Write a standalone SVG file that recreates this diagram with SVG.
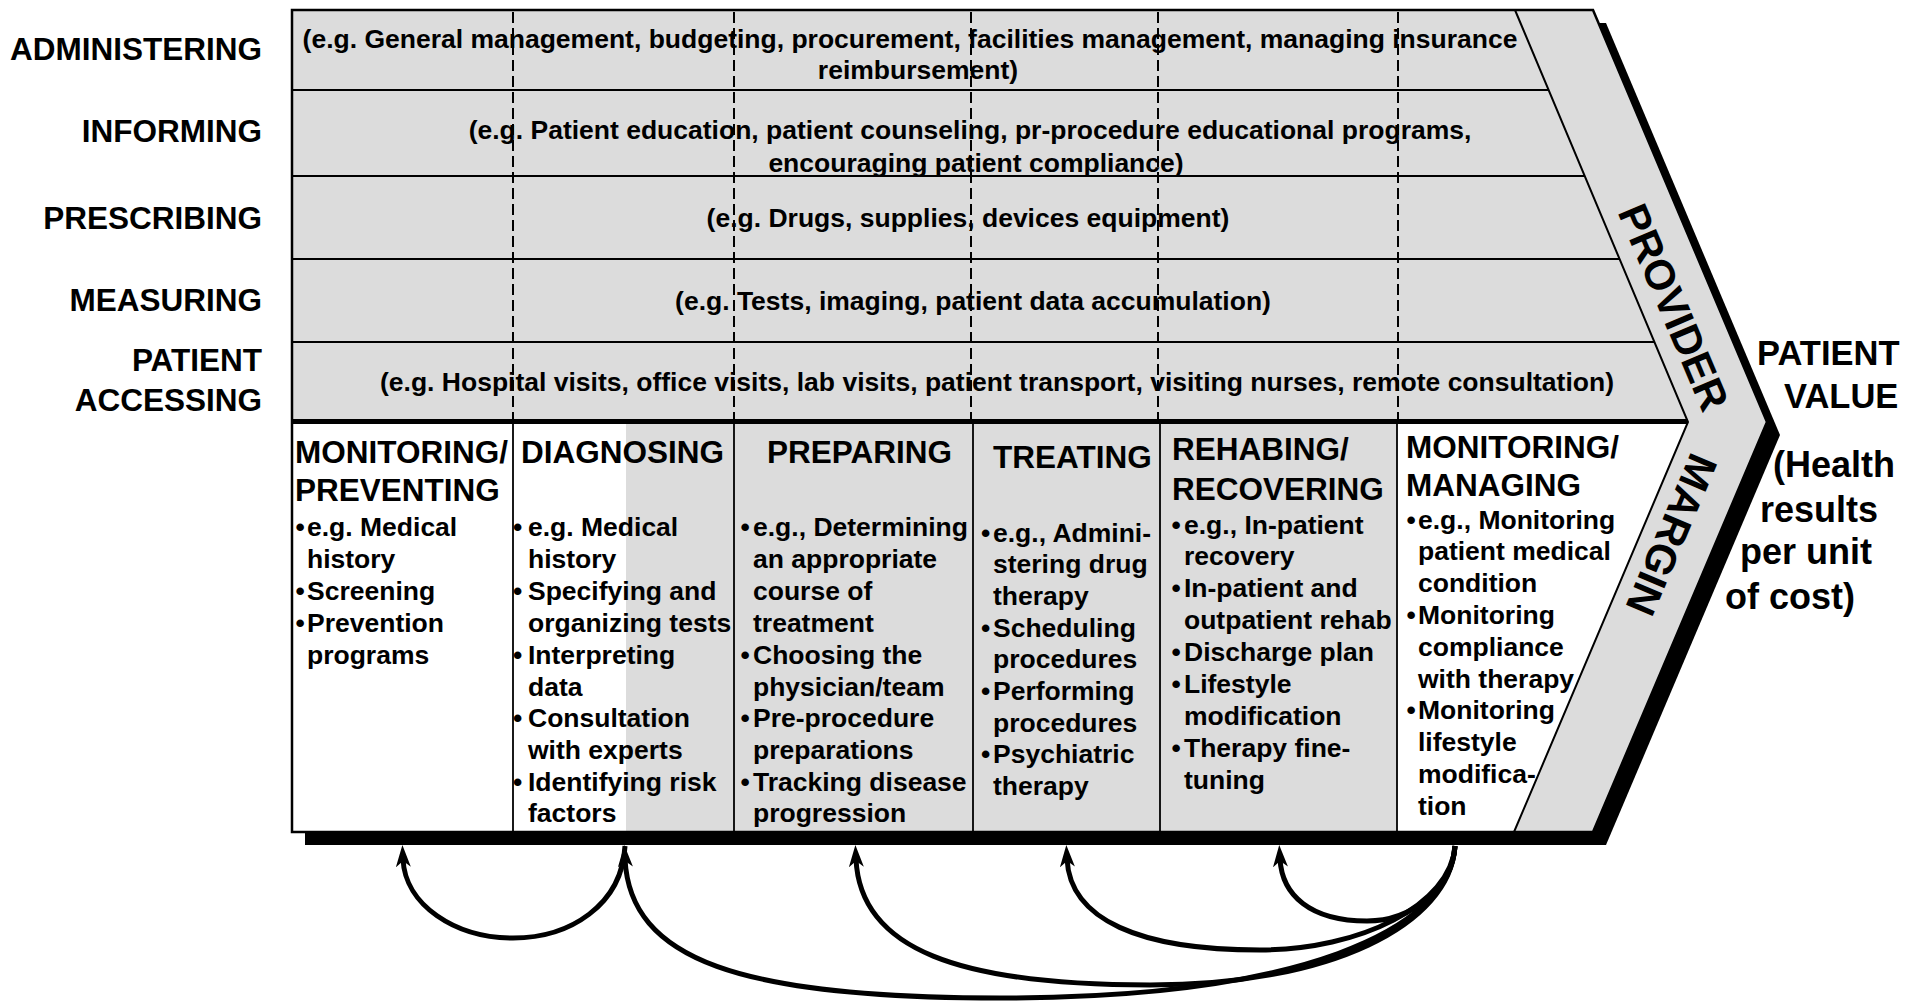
<svg xmlns="http://www.w3.org/2000/svg" width="1909" height="1002" viewBox="0 0 1909 1002">
<style>
text{font-family:"Liberation Sans",Arial,Helvetica,sans-serif;font-weight:bold;fill:#000}
.lbl{font-size:31.5px;text-anchor:end}
.row{font-size:26.5px;text-anchor:middle}
.hd{font-size:31.5px}
.tx{font-size:26.5px}
.pv{font-size:34.5px}
.pv2{font-size:36px}
.band{font-size:42px;text-anchor:middle}
.dash{stroke:#000;stroke-width:2;stroke-dasharray:11 5;fill:none}
.div{stroke:#000;stroke-width:1.8;fill:none}
.rl{stroke:#000;stroke-width:2;fill:none}
.arc{fill:none;stroke:#000;stroke-width:5;marker-end:url(#ah)}
</style>
<defs>
<marker id="ah" markerUnits="userSpaceOnUse" viewBox="0 0 22 15" markerWidth="22" markerHeight="15" refX="8" refY="7.5" orient="auto">
<path d="M0,0 L22,7.5 L0,15 L6,7.5 z" fill="#000"/>
</marker>
</defs>

<g id="frame">
<polygon points="305,23 1606,23 1780,435 1606,845 305,845" fill="#000"/>
<polygon points="292,10 1593,10 1767,422 1593,832 292,832" fill="#dcdcdc"/>
<rect x="292" y="421" width="221" height="411" fill="#fff"/>
<rect x="513" y="421" width="113" height="411" fill="#fff"/>
<polygon points="1397,421 1688,421 1514,832 1397,832" fill="#fff"/>
<line class="rl" x1="292" y1="90" x2="1548.6" y2="90"/>
<line class="rl" x1="292" y1="176" x2="1584.7" y2="176"/>
<line class="rl" x1="292" y1="259" x2="1619.6" y2="259"/>
<line class="rl" x1="292" y1="342" x2="1654.4" y2="342"/>
<line class="dash" x1="513" y1="12" x2="513" y2="419"/>
<line class="dash" x1="734" y1="12" x2="734" y2="419"/>
<line class="dash" x1="971" y1="12" x2="971" y2="419"/>
<line class="dash" x1="1158" y1="12" x2="1158" y2="419"/>
<line class="dash" x1="1398" y1="12" x2="1398" y2="419"/>
<line class="div" x1="513" y1="421" x2="513" y2="832"/>
<line class="div" x1="734" y1="421" x2="734" y2="832"/>
<line class="div" x1="973" y1="421" x2="973" y2="832"/>
<line class="div" x1="1160" y1="421" x2="1160" y2="832"/>
<line class="div" x1="1397" y1="421" x2="1397" y2="832"/>
<polyline class="rl" points="1515,10 1688,422 1514,832"/>
<line x1="292" y1="421.5" x2="1688" y2="421.5" stroke="#000" stroke-width="5"/>
<polygon points="292,10 1593,10 1767,422 1593,832 292,832" fill="none" stroke="#000" stroke-width="2.5"/>
</g>

<g id="row-administering">
<text class="lbl" x="262" y="60">ADMINISTERING</text>
<text class="row" x="910" y="48">(e.g. General management, budgeting, procurement, facilities management, managing insurance</text>
<text class="row" x="918" y="79">reimbursement)</text>
</g>
<g id="row-informing">
<text class="lbl" x="262" y="142">INFORMING</text>
<text class="row" x="970" y="139">(e.g. Patient education, patient counseling, pr-procedure educational programs,</text>
<text class="row" x="976" y="172">encouraging patient compliance)</text>
</g>
<g id="row-prescribing">
<text class="lbl" x="262" y="229">PRESCRIBING</text>
<text class="row" x="968" y="227">(e.g. Drugs, supplies, devices equipment)</text>
</g>
<g id="row-measuring">
<text class="lbl" x="262" y="311">MEASURING</text>
<text class="row" x="973" y="309.5">(e.g. Tests, imaging, patient data accumulation)</text>
</g>
<g id="row-patient-accessing">
<text class="lbl" x="262" y="371">PATIENT</text>
<text class="lbl" x="262" y="411">ACCESSING</text>
<text class="row" x="997" y="390.5">(e.g. Hospital visits, office visits, lab visits, patient transport, visiting nurses, remote consultation)</text>
</g>

<g id="stage-monitoring-preventing">
<text class="hd" x="295" y="463">MONITORING/</text>
<text class="hd" x="295" y="501">PREVENTING</text>
<text class="tx" x="295.5" y="536">•</text><text class="tx" x="307" y="536">e.g. Medical</text>
<text class="tx" x="307" y="568">history</text>
<text class="tx" x="295.5" y="600">•</text><text class="tx" x="307" y="600">Screening</text>
<text class="tx" x="295.5" y="632">•</text><text class="tx" x="307" y="632">Prevention</text>
<text class="tx" x="307" y="664">programs</text>
</g>

<g id="stage-diagnosing">
<text class="hd" x="521" y="463">DIAGNOSING</text>
<text class="tx" x="513" y="536">•</text><text class="tx" x="528" y="536">e.g. Medical</text>
<text class="tx" x="528" y="568">history</text>
<text class="tx" x="513" y="600">•</text><text class="tx" x="528" y="600">Specifying and</text>
<text class="tx" x="528" y="632">organizing tests</text>
<text class="tx" x="513" y="664">•</text><text class="tx" x="528" y="664">Interpreting</text>
<text class="tx" x="528" y="695.5">data</text>
<text class="tx" x="513" y="727">•</text><text class="tx" x="528" y="727">Consultation</text>
<text class="tx" x="528" y="759">with experts</text>
<text class="tx" x="513" y="790.5">•</text><text class="tx" x="528" y="790.5">Identifying risk</text>
<text class="tx" x="528" y="822">factors</text>
</g>

<g id="stage-preparing">
<text class="hd" x="767" y="463">PREPARING</text>
<text class="tx" x="740.5" y="536">•</text><text class="tx" x="753" y="536">e.g., Determining</text>
<text class="tx" x="753" y="568">an appropriate</text>
<text class="tx" x="753" y="600">course of</text>
<text class="tx" x="753" y="632">treatment</text>
<text class="tx" x="740.5" y="664">•</text><text class="tx" x="753" y="664">Choosing the</text>
<text class="tx" x="753" y="695.5">physician/team</text>
<text class="tx" x="740.5" y="727">•</text><text class="tx" x="753" y="727">Pre-procedure</text>
<text class="tx" x="753" y="759">preparations</text>
<text class="tx" x="740.5" y="790.5">•</text><text class="tx" x="753" y="790.5">Tracking disease</text>
<text class="tx" x="753" y="822">progression</text>
</g>

<g id="stage-treating">
<text class="hd" x="993" y="468">TREATING</text>
<text class="tx" x="981" y="541.5">•</text><text class="tx" x="993" y="541.5">e.g., Admini-</text>
<text class="tx" x="993" y="573">stering drug</text>
<text class="tx" x="993" y="605">therapy</text>
<text class="tx" x="981" y="636.5">•</text><text class="tx" x="993" y="636.5">Scheduling</text>
<text class="tx" x="993" y="668">procedures</text>
<text class="tx" x="981" y="700">•</text><text class="tx" x="993" y="700">Performing</text>
<text class="tx" x="993" y="731.5">procedures</text>
<text class="tx" x="981" y="763">•</text><text class="tx" x="993" y="763">Psychiatric</text>
<text class="tx" x="993" y="795">therapy</text>
</g>

<g id="stage-rehabing-recovering">
<text class="hd" x="1172" y="460">REHABING/</text>
<text class="hd" x="1172" y="500">RECOVERING</text>
<text class="tx" x="1171.5" y="533.5">•</text><text class="tx" x="1184" y="533.5">e.g., In-patient</text>
<text class="tx" x="1184" y="565">recovery</text>
<text class="tx" x="1171.5" y="597">•</text><text class="tx" x="1184" y="597">In-patient and</text>
<text class="tx" x="1184" y="629">outpatient rehab</text>
<text class="tx" x="1171.5" y="661">•</text><text class="tx" x="1184" y="661">Discharge plan</text>
<text class="tx" x="1171.5" y="693">•</text><text class="tx" x="1184" y="693">Lifestyle</text>
<text class="tx" x="1184" y="725">modification</text>
<text class="tx" x="1171.5" y="757">•</text><text class="tx" x="1184" y="757">Therapy fine-</text>
<text class="tx" x="1184" y="789">tuning</text>
</g>

<g id="stage-monitoring-managing">
<text class="hd" x="1406" y="458">MONITORING/</text>
<text class="hd" x="1406" y="496">MANAGING</text>
<text class="tx" x="1406.5" y="528.5">•</text><text class="tx" x="1418" y="528.5">e.g., Monitoring</text>
<text class="tx" x="1418" y="560">patient medical</text>
<text class="tx" x="1418" y="592">condition</text>
<text class="tx" x="1406.5" y="624">•</text><text class="tx" x="1418" y="624">Monitoring</text>
<text class="tx" x="1418" y="655.5">compliance</text>
<text class="tx" x="1418" y="687.5">with therapy</text>
<text class="tx" x="1406.5" y="719">•</text><text class="tx" x="1418" y="719">Monitoring</text>
<text class="tx" x="1418" y="751">lifestyle</text>
<text class="tx" x="1418" y="782.5">modifica-</text>
<text class="tx" x="1418" y="814.5">tion</text>
</g>

<g id="provider-margin">
<text class="band" transform="translate(1674,307) rotate(67)" x="0" y="15">PROVIDER</text>
<text class="band" transform="translate(1672,535) rotate(113)" x="0" y="15">MARGIN</text>
</g>

<g id="patient-value">
<text class="pv" x="1757" y="365">PATIENT</text>
<text class="pv" x="1784" y="408">VALUE</text>
<text class="pv2" x="1773" y="477">(Health</text>
<text class="pv2" x="1760" y="522">results</text>
<text class="pv2" x="1740" y="564">per unit</text>
<text class="pv2" x="1725" y="609">of cost)</text>
</g>

<g id="connectors">
<path class="arc" d="M625,846 C622,905 570,938 513,938 C455,938 405,905 403,859"/>
<path class="arc" d="M1455,846 C1450,930 1300,998 1000,998 C740,998 630,960 625,859"/>
<path class="arc" d="M1455,846 C1450,925 1330,985 1150,985 C960,985 860,950 856,859"/>
<path class="arc" d="M1455,846 C1451,905 1360,950 1260,950 C1140,950 1070,920 1067,859"/>
<path class="arc" d="M1455,846 C1452,890 1410,921 1367,921 C1310,921 1282,895 1280,859"/>
</g>
</svg>
